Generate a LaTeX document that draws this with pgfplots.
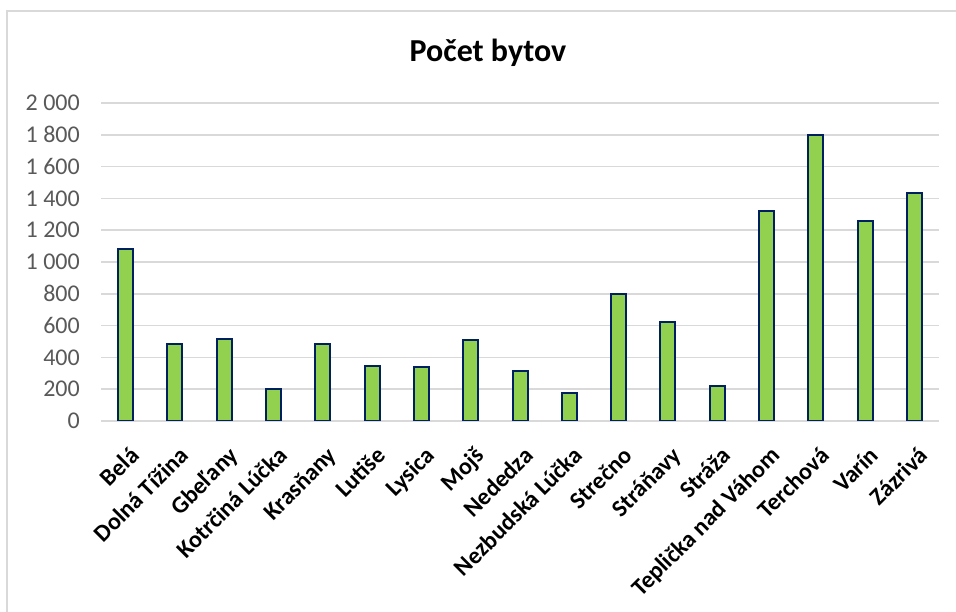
\documentclass[border=0pt]{standalone}
\usepackage{fontspec}
\setmainfont{Carlito}
\usepackage{pgfplots}
\pgfplotsset{compat=1.18}
\definecolor{barfill}{HTML}{92D050}
\definecolor{baredge}{HTML}{002060}
\definecolor{gridgray}{HTML}{D9D9D9}
\definecolor{ticktext}{HTML}{595959}

\begin{document}
\begin{tikzpicture}[x=1pt,y=1pt]
    \useasboundingbox (0,0) rectangle (956,612);
    \fill[white] (0,0) rectangle (956,612);
    % chart frame
    \draw[gridgray, line width=2pt] (7,-20) -- (7,601) -- (980,601);
    % title
    \node[anchor=base, inner sep=0pt, font=\fontsize{32}{38}\selectfont\bfseries]
        at (488,550) {Počet bytov};

    \begin{axis}[
        at={(101pt,191pt)}, anchor=south west,
        scale only axis,
        width=838pt, height=318pt,
        xmin=-0.5, xmax=16.5,
        ymin=0, ymax=2000,
        ybar, bar width=15pt,
        axis x line*=bottom, axis y line*=left,
        x axis line style={gridgray, line width=1.5pt, -},
        y axis line style={draw=none},
        major tick length=0pt,
        ymajorgrids=true,
        major grid style={gridgray, line width=1.5pt},
        ytick={0,200,...,2000},
        yticklabels={0,200,400,600,800,1 000,1 200,1 400,1 600,1 800,2 000},
        yticklabel style={anchor=east, inner sep=0pt, xshift=-21pt,
            font=\fontsize{24}{28}\selectfont, text=ticktext},
        xtick=data,
        xticklabels={Belá, Dolná Tížina, Gbeľany, Kotrčiná Lúčka, Krasňany,
            Lutiše, Lysica, Mojš, Nededza, Nezbudská Lúčka, Strečno,
            Stráňavy, Stráža, Teplička nad Váhom, Terchová, Varín, Zázrivá},
        xticklabel style={xshift=15pt, yshift=-36pt, rotate=45,
            anchor=base east, inner sep=0pt,
            font=\fontsize{24}{28}\selectfont\bfseries, text=black},
    ]
        \addplot[fill=barfill, draw=baredge, line width=2pt]
        table{
            0 1080
            1 484
            2 516
            3 201
            4 484
            5 348
            6 340
            7 509
            8 314
            9 176
            10 799
            11 620
            12 220
            13 1323
            14 1799
            15 1258
            16 1434
        };
    \end{axis}
\end{tikzpicture}
\end{document}
